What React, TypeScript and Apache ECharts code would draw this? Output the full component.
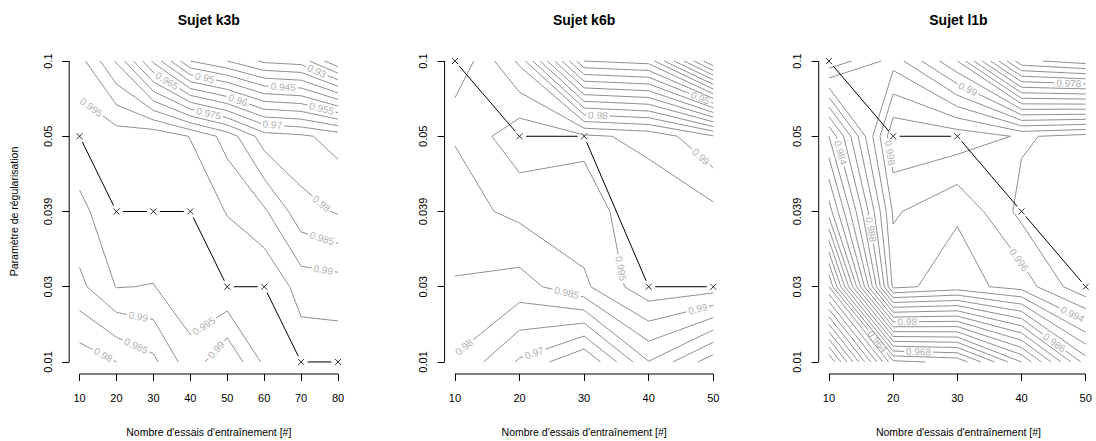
import React, { useEffect, useRef } from "react";
import * as echarts from "echarts";

// ---------------- data ----------------
const paramTickLabels = ["0.01", "0.03", "0.039", "0.05", "0.1"];

// accuracy per number of training trials (rows), for parameters 0.01, 0.03, 0.039, 0.05, 0.1
const k3bTrials = [10, 20, 30, 40, 50, 60, 70, 80];
const k3bAccuracy = [
  [0.977, 0.9887, 0.9938, 0.998, 0.992],
  [0.98, 0.9952, 0.998, 0.9975, 0.9795],
  [0.9838, 0.9948, 0.9992, 0.9986, 0.959],
  [0.993, 0.9985, 0.999, 0.9948, 0.94],
  [0.9855, 0.9995, 0.9947, 0.988, 0.935],
  [0.996, 0.9995, 0.9908, 0.9774, 0.929],
  [0.998, 0.993, 0.982, 0.976, 0.9277],
  [0.998, 0.9925, 0.9795, 0.973, 0.9157],
];
const k3bBestParam = ["0.05", "0.039", "0.039", "0.039", "0.03", "0.03", "0.01", "0.01"];
const k3bLevels = [0.92, 0.925, 0.93, 0.935, 0.94, 0.945, 0.95, 0.955, 0.96, 0.965, 0.97, 0.975, 0.98, 0.985, 0.99, 0.995];

const k6bTrials = [10, 20, 30, 40, 50];
const k6bAccuracy = [
  [0.9795, 0.9845, 0.988, 0.9903, 0.9995],
  [0.9693, 0.9828, 0.9913, 0.9985, 0.984],
  [0.96, 0.989, 0.993, 0.996, 0.94],
  [0.9798, 0.9986, 0.998, 0.9937, 0.938],
  [0.967, 0.9975, 0.9964, 0.9854, 0.905],
];
const k6bBestParam = ["0.1", "0.05", "0.05", "0.03", "0.03"];
const k6bLevels = [0.91, 0.915, 0.92, 0.925, 0.93, 0.935, 0.94, 0.945, 0.95, 0.955, 0.96, 0.965, 0.97, 0.975, 0.98, 0.985, 0.99, 0.995];

const l1bTrials = [10, 20, 30, 40, 50];
const l1bAccuracy = [
  [0.942, 0.962, 0.975, 0.982, 0.9975],
  [0.9635, 0.9945, 0.9963, 0.9996, 0.9932],
  [0.9645, 0.9932, 0.9942, 0.9992, 0.986],
  [0.974, 0.9948, 0.9986, 0.99775, 0.9705],
  [0.987, 0.9997, 0.9992, 0.9987, 0.969],
];
const l1bBestParam = ["0.1", "0.05", "0.05", "0.039", "0.03"];
const l1bLevels = [0.944, 0.946, 0.948, 0.95, 0.952, 0.954, 0.956, 0.958, 0.96, 0.962, 0.964, 0.966, 0.968, 0.97, 0.972, 0.974, 0.976, 0.978, 0.98, 0.982, 0.984, 0.986, 0.988, 0.99, 0.992, 0.994, 0.996, 0.998];

// ---------------- layout (label anchor hints: level, trials, param index) ----------------
const k3bLabelSpots: number[][] = [
  [0.995, 13.66, 4.43], [0.965, 33.98, 4.76], [0.95, 44.28, 4.87], [0.975, 45.09, 4.32],
  [0.93, 74.36, 4.88], [0.945, 65.15, 4.65], [0.96, 53.22, 4.53], [0.955, 75.45, 4.35],
  [0.97, 62.17, 4.14], [0.98, 75.45, 3.1], [0.985, 75.45, 2.61], [0.99, 75.72, 2.14],
  [0.99, 25.85, 1.58], [0.985, 25.31, 1.21], [0.98, 16.37, 1.09], [0.995, 44.28, 1.43], [0.99, 47.26, 1.15],
];
const k6bLabelSpots: number[][] = [
  [0.98, 32.17, 4.33], [0.95, 47.98, 4.51], [0.99, 48.29, 3.75], [0.995, 35.58, 2.24],
  [0.985, 27.21, 1.89], [0.99, 47.67, 1.68], [0.98, 11.86, 1.15], [0.97, 22.4, 1.09],
];
const l1bLabelSpots: number[][] = [
  [0.99, 31.93, 4.68], [0.978, 47.37, 4.75], [0.984, 11.7, 3.78], [0.998, 19.42, 3.78],
  [0.988, 17.26, 2.77], [0.996, 38.57, 2.29], [0.98, 22.2, 1.5], [0.994, 47.37, 1.53],
  [0.964, 16.49, 1.2], [0.968, 23.9, 1.03], [0.986, 44.29, 1.16],
];

const FONT = '"Liberation Sans", Arial, Helvetica, sans-serif';
const GREY = "#909090";
const LABEL_GREY = "#999999";
const TOP = 49;
const HEIGHT = 325;
const Y_MIN = 0.84;
const Y_MAX = 5.16;
const LABEL_SIZE = 10;

type P = [number, number];

function contourLines(xs: number[], ys: number[], z: number[][], level: number): P[][] {
  const nx = xs.length, ny = ys.length;
  const pts = new Map<string, P>();
  const adj = new Map<string, string[]>();
  const link = (a: string, b: string) => {
    if (!adj.has(a)) adj.set(a, []);
    if (!adj.has(b)) adj.set(b, []);
    adj.get(a)!.push(b);
    adj.get(b)!.push(a);
  };
  const up = (v: number) => v > level;
  const edgePt = (key: string, xa: number, ya: number, va: number, xb: number, yb: number, vb: number) => {
    if (!pts.has(key)) {
      const t = (level - va) / (vb - va);
      pts.set(key, [xa + t * (xb - xa), ya + t * (yb - ya)]);
    }
    return key;
  };
  for (let i = 0; i < nx - 1; i++) {
    for (let j = 0; j < ny - 1; j++) {
      const v00 = z[i][j], v10 = z[i + 1][j], v11 = z[i + 1][j + 1], v01 = z[i][j + 1];
      const x0 = xs[i], x1 = xs[i + 1], y0 = ys[j], y1 = ys[j + 1];
      let bottom: string | null = null, right: string | null = null, topE: string | null = null, left: string | null = null;
      if (up(v00) !== up(v10)) bottom = edgePt(`h${i}_${j}`, x0, y0, v00, x1, y0, v10);
      if (up(v10) !== up(v11)) right = edgePt(`v${i + 1}_${j}`, x1, y0, v10, x1, y1, v11);
      if (up(v01) !== up(v11)) topE = edgePt(`h${i}_${j + 1}`, x0, y1, v01, x1, y1, v11);
      if (up(v00) !== up(v01)) left = edgePt(`v${i}_${j}`, x0, y0, v00, x0, y1, v01);
      const list = [bottom, right, topE, left].filter((e) => e !== null) as string[];
      if (list.length === 2) link(list[0], list[1]);
      else if (list.length === 4) {
        const c = (v00 + v10 + v11 + v01) / 4;
        if (up(c) === up(v00)) {
          link(bottom!, right!);
          link(topE!, left!);
        } else {
          link(bottom!, left!);
          link(right!, topE!);
        }
      }
    }
  }
  const used = new Set<string>();
  const ek = (a: string, b: string) => (a < b ? a + "|" + b : b + "|" + a);
  const lines: P[][] = [];
  const walk = (start: string) => {
    const line: string[] = [start];
    let cur = start;
    for (;;) {
      const nb = (adj.get(cur) || []).find((n) => !used.has(ek(cur, n)));
      if (nb === undefined) break;
      used.add(ek(cur, nb));
      line.push(nb);
      cur = nb;
    }
    if (line.length > 1) lines.push(line.map((k) => pts.get(k)!));
  };
  for (const [k, nbs] of adj) if (nbs.length === 1) walk(k);
  for (const [k] of adj) walk(k);
  return lines;
}

function cumLen(ln: P[]) {
  const c = [0];
  for (let i = 1; i < ln.length; i++) c.push(c[i - 1] + Math.hypot(ln[i][0] - ln[i - 1][0], ln[i][1] - ln[i - 1][1]));
  return c;
}
function pointAt(ln: P[], cum: number[], s: number): P {
  for (let i = 1; i < ln.length; i++) {
    if (s <= cum[i] || i === ln.length - 1) {
      const L = cum[i] - cum[i - 1];
      const t = L > 0 ? Math.max(0, Math.min(1, (s - cum[i - 1]) / L)) : 0;
      return [ln[i - 1][0] + t * (ln[i][0] - ln[i - 1][0]), ln[i - 1][1] + t * (ln[i][1] - ln[i - 1][1])];
    }
  }
  return ln[ln.length - 1];
}
function slice(ln: P[], cum: number[], s1: number, s2: number): P[] {
  const out: P[] = [pointAt(ln, cum, s1)];
  for (let i = 0; i < ln.length; i++) if (cum[i] > s1 && cum[i] < s2) out.push(ln[i]);
  out.push(pointAt(ln, cum, s2));
  return out;
}
function textWidth(t: string) {
  let w = 0;
  for (const ch of t) w += ch === "." ? 0.278 : 0.556;
  return w * LABEL_SIZE;
}

interface PanelDef {
  title: string;
  trials: number[];
  acc: number[][];
  best: string[];
  levels: number[];
  spots: number[][];
  left: number;
  width: number;
}

const panels: PanelDef[] = [
  { title: "Sujet k3b", trials: k3bTrials, acc: k3bAccuracy, best: k3bBestParam, levels: k3bLevels, spots: k3bLabelSpots, left: 69.2, width: 279.2 },
  { title: "Sujet k6b", trials: k6bTrials, acc: k6bAccuracy, best: k6bBestParam, levels: k6bLevels, spots: k6bLabelSpots, left: 444.6, width: 279 },
  { title: "Sujet l1b", trials: l1bTrials, acc: l1bAccuracy, best: l1bBestParam, levels: l1bLevels, spots: l1bLabelSpots, left: 818.7, width: 279.5 },
];

function buildOption() {
  const grids: any[] = [];
  const xAxes: any[] = [];
  const yAxes: any[] = [];
  const series: any[] = [];
  const graphic: any[] = [];
  panels.forEach((p, idx) => {
    const xs = p.trials;
    const ys = [1, 2, 3, 4, 5];
    const span = xs[xs.length - 1] - xs[0];
    const xMin = xs[0] - 0.04 * span;
    const xMax = xs[xs.length - 1] + 0.04 * span;
    const sx = p.width / (xMax - xMin);
    const sy = HEIGHT / (Y_MAX - Y_MIN);
    const toPx = (q: P): P => [(q[0] - xMin) * sx, (Y_MAX - q[1]) * sy];
    const toData = (q: P): P => [q[0] / sx + xMin, Y_MAX - q[1] / sy];

    grids.push({ left: p.left, top: TOP, width: p.width, height: HEIGHT, containLabel: false });
    xAxes.push({
      type: "value", gridIndex: idx, min: xMin, max: xMax,
      axisLine: { show: false }, splitLine: { show: false },
      axisTick: { show: true, customValues: xs, length: 7, lineStyle: { color: "#000", width: 1 } },
      axisLabel: { show: true, customValues: xs, margin: 18, color: "#000", fontSize: 11, fontFamily: FONT, formatter: (v: number) => String(v) },
    });
    yAxes.push({
      type: "value", gridIndex: idx, min: Y_MIN, max: Y_MAX,
      axisLine: { show: false }, splitLine: { show: false },
      axisTick: { show: true, customValues: ys, length: 7, lineStyle: { color: "#000", width: 1 } },
      axisLabel: {
        show: true, customValues: ys, margin: 16, rotate: 90, color: "#000", fontSize: 11, fontFamily: FONT,
        formatter: (v: number) => paramTickLabels[Math.round(v) - 1],
      },
    });

    // axis lines (R style: from first to last tick)
    series.push({
      type: "line", xAxisIndex: idx, yAxisIndex: idx, data: [[xs[0], Y_MIN], [xs[xs.length - 1], Y_MIN]],
      symbol: "none", clip: false, silent: true, lineStyle: { color: "#000", width: 1 },
    });
    series.push({
      type: "line", xAxisIndex: idx, yAxisIndex: idx, data: [[xMin, 1], [xMin, 5]],
      symbol: "none", clip: false, silent: true, lineStyle: { color: "#000", width: 1 },
    });

    // contours
    const labelItems: any[] = [];
    for (const level of p.levels) {
      let lines = contourLines(xs, ys, p.acc, level).map((l) => l.map(toPx));
      const spots = p.spots.filter((s) => Math.abs(s[0] - level) < 1e-9);
      for (const s of spots) {
        const h = toPx([s[1], s[2]]);
        let best = { d: Infinity, k: -1, s: 0 };
        lines.forEach((ln, k) => {
          let acc = 0;
          for (let i = 0; i < ln.length - 1; i++) {
            const a = ln[i], b = ln[i + 1];
            const dx = b[0] - a[0], dy = b[1] - a[1];
            const L = Math.hypot(dx, dy);
            let t = L > 0 ? ((h[0] - a[0]) * dx + (h[1] - a[1]) * dy) / (L * L) : 0;
            t = Math.max(0, Math.min(1, t));
            const d = Math.hypot(a[0] + t * dx - h[0], a[1] + t * dy - h[1]);
            if (d < best.d) best = { d, k, s: acc + t * L };
            acc += L;
          }
        });
        if (best.k < 0) continue;
        const ln = lines[best.k];
        const cum = cumLen(ln);
        const total = cum[cum.length - 1];
        const text = String(level);
        const half = textWidth(text) / 2 + 2;
        let s1 = best.s - half, s2 = best.s + half;
        if (s1 < 0) { s2 -= s1; s1 = 0; }
        if (s2 > total) { s1 -= s2 - total; s2 = total; }
        s1 = Math.max(0, s1);
        const A = pointAt(ln, cum, s1), B = pointAt(ln, cum, s2);
        let ang = (Math.atan2(-(B[1] - A[1]), B[0] - A[0]) * 180) / Math.PI;
        if (ang > 90) ang -= 180;
        if (ang < -90) ang += 180;
        const C: P = [(A[0] + B[0]) / 2, (A[1] + B[1]) / 2];
        labelItems.push({ value: toData(C), label: { formatter: text, rotate: ang } });
        const pieces: P[][] = [];
        if (s1 > 0.5) pieces.push(slice(ln, cum, 0, s1));
        if (s2 < total - 0.5) pieces.push(slice(ln, cum, s2, total));
        lines.splice(best.k, 1, ...pieces);
      }
      for (const ln of lines) {
        if (ln.length < 2) continue;
        series.push({
          type: "line", xAxisIndex: idx, yAxisIndex: idx, data: ln.map(toData),
          symbol: "none", silent: true, clip: false, lineStyle: { color: GREY, width: 1 },
        });
      }
    }
    series.push({
      type: "scatter", xAxisIndex: idx, yAxisIndex: idx, data: labelItems, symbolSize: 1, silent: true,
      itemStyle: { color: "rgba(0,0,0,0)" },
      label: { show: true, position: "inside", color: LABEL_GREY, fontSize: LABEL_SIZE, fontFamily: FONT },
    });

    // optimal parameter path (type "b": points + gapped lines)
    const pts: P[] = xs.map((x, i) => [x, paramTickLabels.indexOf(p.best[i]) + 1]);
    const GAP = 6.5;
    for (let i = 0; i < pts.length - 1; i++) {
      const a = toPx(pts[i]), b = toPx(pts[i + 1]);
      const d = Math.hypot(b[0] - a[0], b[1] - a[1]);
      if (d <= 2 * GAP) continue;
      const ux = (b[0] - a[0]) / d, uy = (b[1] - a[1]) / d;
      const a2: P = [a[0] + ux * GAP, a[1] + uy * GAP];
      const b2: P = [b[0] - ux * GAP, b[1] - uy * GAP];
      series.push({
        type: "line", xAxisIndex: idx, yAxisIndex: idx, data: [toData(a2), toData(b2)],
        symbol: "none", silent: true, clip: false, lineStyle: { color: "#000", width: 1 },
      });
    }
    series.push({
      type: "scatter", xAxisIndex: idx, yAxisIndex: idx, data: pts, silent: true,
      symbol: "path://M0,0L10,10M10,0L0,10", symbolSize: 6,
      itemStyle: { color: "rgba(0,0,0,0)", borderColor: "#000", borderWidth: 1 },
    });

    const cx = p.left + p.width / 2;
    graphic.push({
      type: "text", x: cx, y: 20,
      style: { text: p.title, fontSize: 14, fontWeight: "bold", fontFamily: FONT, fill: "#000", align: "center", verticalAlign: "middle", textAlign: "center", textVerticalAlign: "middle" },
    });
    graphic.push({
      type: "text", x: cx, y: 432,
      style: { text: "Nombre d'essais d'entraînement [#]", fontSize: 10.5, fontFamily: FONT, fill: "#000", align: "center", verticalAlign: "middle", textAlign: "center", textVerticalAlign: "middle" },
    });
  });
  graphic.push({
    type: "text", x: 14, y: 211.5, rotation: Math.PI / 2,
    style: { text: "Paramètre de régularisation", fontSize: 10.5, fontFamily: FONT, fill: "#000", align: "center", verticalAlign: "middle", textAlign: "center", textVerticalAlign: "middle" },
  });

  return {
    animation: false,
    backgroundColor: "#fff",
    grid: grids,
    xAxis: xAxes,
    yAxis: yAxes,
    series,
    graphic,
  };
}

export default function App() {
  const ref = useRef<HTMLDivElement>(null);
  useEffect(() => {
    if (!ref.current) return;
    const chart = echarts.init(ref.current, undefined, { renderer: "svg" });
    chart.setOption(buildOption() as any);
    return () => chart.dispose();
  }, []);
  return <div ref={ref} style={{ position: "absolute", left: 0, top: 0, width: 1096, height: 441, background: "#fff" }} />;
}
